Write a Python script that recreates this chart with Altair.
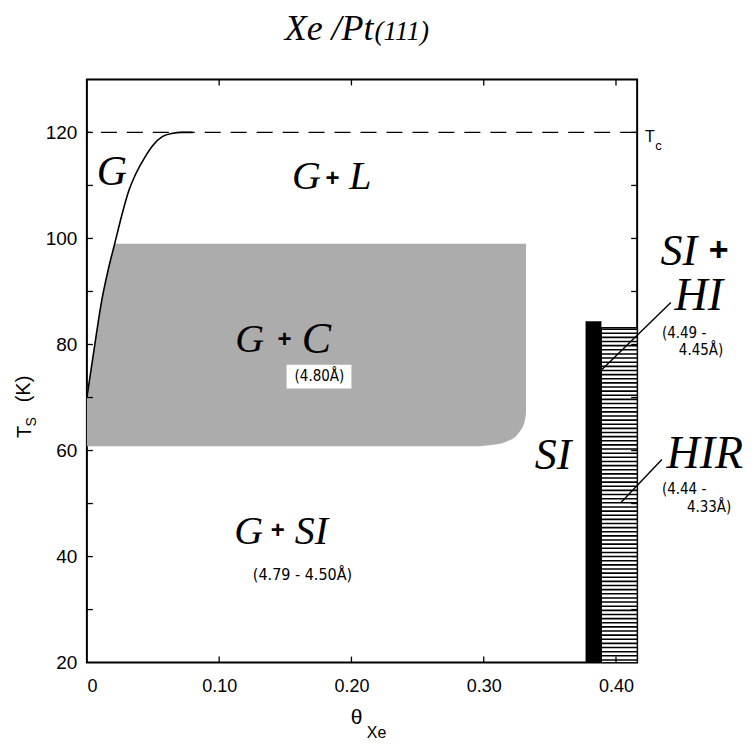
import altair as alt
import pandas as pd

# ---------------- data ----------------
# G / (G+L) boundary curve
g_theta = [0.0, 0.003, 0.006, 0.011, 0.016, 0.021, 0.026, 0.031, 0.037, 0.044, 0.050, 0.057, 0.064, 0.072, 0.080]
g_T = [70, 75, 80, 88, 94, 99, 104, 108.5, 112.2, 115.4, 117.6, 119.2, 119.8, 120, 120]

# G+C shaded region (temperature, left boundary, right boundary)
gc_T = [60.8, 61.2, 62.0, 63.5, 65.5, 67.5, 70, 75, 80, 88, 94, 99]
gc_left = [0, 0, 0, 0, 0, 0, 0, 0.003, 0.006, 0.011, 0.016, 0.021]
gc_right = [0.297, 0.310, 0.320, 0.327, 0.331, 0.332, 0.332, 0.332, 0.332, 0.332, 0.332, 0.332]

Tc = 120
x_domain = [0, 0.416]
y_domain = [20, 130]

# SI (black band) and HIR (hatched band)
si_x = [0.377, 0.389]
si_T = [20, 84.4]
hir_x = [0.389, 0.416]
hir_T = [20, 83.2]

# leader lines: x, y -> x2, y2
lead_x = [0.4415, 0.4347]
lead_y = [87.9, 58.3]
lead_x2 = [0.3894, 0.4038]
lead_y2 = [75.3, 50.2]

# phase labels (italic serif)
ph_text = ["G", "G", "L", "G", "C", "G", "SI", "SI", "SI", "HI", "HIR"]
ph_x = [0.0189, 0.166, 0.2068, 0.123, 0.1736, 0.1223, 0.1698, 0.3525, 0.4475, 0.4626, 0.4672]
ph_y = [112.5, 111.5, 111.5, 80.9, 80.9, 44.7, 44.7, 58.9, 97.5, 89.2, 59.4]
ph_size = [42, 40, 40, 40, 44, 40, 40, 44, 44, 46, 46]

# plus signs
plus_x = [0.1857, 0.1494, 0.1442, 0.4777]
plus_y = [111.3, 80.8, 44.9, 97.7]
plus_size = [24, 24, 24, 34]

# lattice constants (centered)
lc_text = ["(4.80Å)", "(4.79 - 4.50Å)"]
lc_x = [0.1758, 0.163]
lc_y = [74.0, 36.6]
lc_size = [15, 16]
# white box behind (4.80Å)
box_x = [0.151]
box_x2 = [0.200]
box_y = [71.7]
box_y2 = [76.2]

# lattice constants (left aligned)
ll_text = ["(4.49 -", "4.45Å)", "(4.44 -", "4.33Å)"]
ll_x = [0.4347, 0.4475, 0.4347, 0.4536]
ll_y = [82.1, 78.9, 52.8, 49.4]

# axis ticks
x_labels = [0, 0.10, 0.20, 0.30, 0.40]
x_ticks = [0.10, 0.20, 0.30, 0.40]
y_labels = [20, 40, 60, 80, 100, 120]
y_ticks = [30, 40, 50, 60, 70, 80, 90, 100, 110, 120]

W, H = 551, 584
SANS = "Liberation Sans Narrow, DejaVu Sans Condensed, Liberation Sans"

# ---------------- encodings ----------------
xscale = alt.Scale(domain=x_domain, nice=False, zero=False)
yscale = alt.Scale(domain=y_domain, nice=False, zero=False)
xaxis = alt.Axis(values=x_labels, title=None, grid=False, domain=False, ticks=False, tickSize=0,
                 labelExpr="datum.value == 0 ? '0' : format(datum.value, '.2f')",
                 labelFont="Liberation Sans", labelFontSize=18, labelColor="black", labelPadding=15)
yaxis = alt.Axis(values=y_labels, title=None, grid=False, domain=False, ticks=False, tickSize=0,
                 format="d", labelFont="Liberation Sans", labelFontSize=19, labelColor="black",
                 labelPadding=10)


def X(f):
    return alt.X(f, scale=xscale, axis=xaxis)


def Y(f):
    return alt.Y(f, scale=yscale, axis=yaxis)


gc_df = pd.DataFrame({"T": gc_T, "l": gc_left, "r": gc_right})
shade = alt.Chart(gc_df).mark_area(orient="horizontal", color="#acacac", opacity=1,
                                   interpolate="monotone").encode(
    y=Y("T:Q"), x=X("l:Q"), x2="r:Q")

box = alt.Chart(pd.DataFrame({"x": box_x, "x2": box_x2, "y": box_y, "y2": box_y2})).mark_rect(
    color="white").encode(x=X("x:Q"), x2="x2:Q", y=Y("y:Q"), y2="y2:Q")

curve = alt.Chart(pd.DataFrame({"x": g_theta, "y": g_T})).mark_line(
    color="black", strokeWidth=1.6, interpolate="monotone").encode(x=X("x:Q"), y=Y("y:Q"))

tc_line = alt.Chart(pd.DataFrame({"x": [x_domain[0]], "x2": [x_domain[1]], "y": [Tc]})).mark_rule(
    color="black", strokeWidth=1.4, strokeDash=[16, 10], strokeDashOffset=-14).encode(
    x=X("x:Q"), x2="x2:Q", y=Y("y:Q"))

si = alt.Chart(pd.DataFrame({"x": [si_x[0]], "x2": [si_x[1]], "y": [si_T[0]], "y2": [si_T[1]]})).mark_rect(
    color="black").encode(x=X("x:Q"), x2="x2:Q", y=Y("y:Q"), y2="y2:Q")

hir_bg = alt.Chart(pd.DataFrame({"x": [hir_x[0]], "x2": [hir_x[1]], "y": [hir_T[0]], "y2": [hir_T[1]]})).mark_rect(
    color="white", stroke="black", strokeWidth=1).encode(x=X("x:Q"), x2="x2:Q", y=Y("y:Q"), y2="y2:Q")

hatch = alt.Chart(alt.sequence(20.5, 83.3, 0.78, as_="t")).mark_rule(
    color="black", strokeWidth=1.6).encode(
    y=Y("t:Q"), x=alt.X(datum=hir_x[0], scale=xscale, axis=xaxis), x2=alt.X2(datum=hir_x[1]))

leads = alt.Chart(pd.DataFrame({"x": lead_x, "y": lead_y, "x2": lead_x2, "y2": lead_y2})).mark_rule(
    color="black", strokeWidth=1.4).encode(x=X("x:Q"), y=Y("y:Q"), x2="x2:Q", y2="y2:Q")

phases = alt.Chart(pd.DataFrame({"x": ph_x, "y": ph_y, "t": ph_text, "s": ph_size})).mark_text(
    font="Liberation Serif", fontStyle="italic", align="center", baseline="middle", color="black").encode(
    x=X("x:Q"), y=Y("y:Q"), text="t:N", size=alt.Size("s:Q", scale=None, legend=None))

plus = alt.Chart(pd.DataFrame({"x": plus_x, "y": plus_y, "s": plus_size})).mark_text(
    text="+", font="Liberation Sans", fontWeight="bold", align="center", baseline="middle", color="black").encode(
    x=X("x:Q"), y=Y("y:Q"), size=alt.Size("s:Q", scale=None, legend=None))

lc = alt.Chart(pd.DataFrame({"x": lc_x, "y": lc_y, "t": lc_text, "s": lc_size})).mark_text(
    font=SANS, align="center", baseline="middle", color="black").encode(
    x=X("x:Q"), y=Y("y:Q"), text="t:N", size=alt.Size("s:Q", scale=None, legend=None))

ll = alt.Chart(pd.DataFrame({"x": ll_x, "y": ll_y, "t": ll_text})).mark_text(
    font=SANS, fontSize=15, align="left", baseline="middle", color="black").encode(
    x=X("x:Q"), y=Y("y:Q"), text="t:N")

tc_T = alt.Chart(pd.DataFrame({"x": [0.4257], "y": [119.1]})).mark_text(
    text="T", font="Liberation Sans", fontSize=16, align="center", baseline="middle", color="black").encode(
    x=X("x:Q"), y=Y("y:Q"))
tc_c = alt.Chart(pd.DataFrame({"x": [0.4322], "y": [117.4]})).mark_text(
    text="c", font="Liberation Sans", fontSize=13, align="center", baseline="middle", color="black").encode(
    x=X("x:Q"), y=Y("y:Q"))

# inward ticks on all four sides
yt = pd.DataFrame({"t": y_ticks})
xt = pd.DataFrame({"t": x_ticks})
tk_left = alt.Chart(yt).mark_rule(color="black", strokeWidth=1.3).encode(
    y=Y("t:Q"), x=alt.value(0), x2=alt.value(6))
tk_right = alt.Chart(yt).mark_rule(color="black", strokeWidth=1.3).encode(
    y=Y("t:Q"), x=alt.value(W - 6), x2=alt.value(W))
tk_bottom = alt.Chart(xt).mark_rule(color="black", strokeWidth=1.3).encode(
    x=X("t:Q"), y=alt.value(H - 6), y2=alt.value(H))
tk_top = alt.Chart(xt).mark_rule(color="black", strokeWidth=1.3).encode(
    x=X("t:Q"), y=alt.value(0), y2=alt.value(6))

# titles (drawn as text so that subscripts can be shown)
one = pd.DataFrame({"a": [0]})


def label(txt, px, py, size, font="Liberation Sans", style="normal", align="center", angle=0):
    return alt.Chart(one).mark_text(text=txt, font=font, fontStyle=style, fontSize=size, align=align,
                                    baseline="alphabetic" if angle == 0 else "middle",
                                    angle=angle, color="black").encode(x=alt.value(px), y=alt.value(py))


t1 = label("Xe /Pt", 287, -39, 36, font="Liberation Serif", style="italic", align="right")
t2 = label("(111)", 288, -39, 27, font="Liberation Serif", style="italic", align="left")
yt1 = label("T", -62, 353, 20, angle=270)
yt2 = label("S", -55, 343, 14, angle=270)
yt3 = label("(K)", -63, 310, 20, angle=270)
xt1 = label("θ", 270, 645, 21)
xt2 = label("Xe", 290, 659, 16)

chart = alt.layer(
    shade, box, curve, tc_line, hir_bg, hatch, si, leads, phases, plus, lc, ll, tc_T, tc_c,
    tk_left, tk_right, tk_bottom, tk_top, t1, t2, yt1, yt2, yt3, xt1, xt2
).properties(
    width=W, height=H,
    autosize=alt.AutoSizeParams(type="none"),
    padding={"left": 79, "top": 71, "right": 110, "bottom": 78},
    background="white",
).configure_view(stroke="black", strokeWidth=2)

chart.save("out.html", embed_options={"renderer": "svg", "actions": False})
